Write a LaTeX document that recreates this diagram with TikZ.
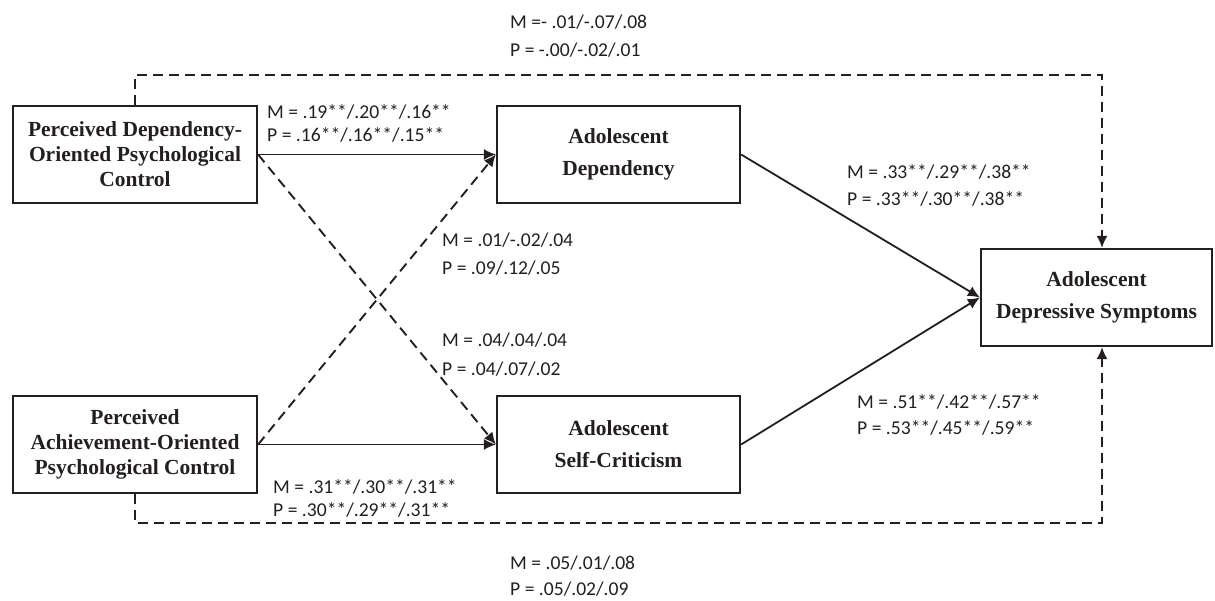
\documentclass[tikz,border=0pt]{standalone}
\usepackage{fontspec}
\setmainfont{Liberation Serif}
\newfontfamily\labfont{Carlito}
\usetikzlibrary{arrows.meta}
\definecolor{ink}{HTML}{231F20}
\tikzset{
  boxthree/.style={draw=ink, line width=2.2pt, rectangle, align=center, inner sep=0pt,
    minimum width=244pt, minimum height=97pt, text=ink,
    font=\fontsize{21.5}{25}\selectfont\bfseries},
  boxtwo/.style={boxthree, font=\fontsize{21.5}{32}\selectfont\bfseries},
  lab/.style={anchor=west, align=left, inner sep=0pt, text=ink,
    font=\labfont\fontsize{19.6}{23}\selectfont},
  solidarrow/.style={draw=ink, line width=1.8pt, -{Latex[length=12pt,width=11pt]}},
  dasharrow/.style={draw=ink, line width=1.9pt, dash pattern=on 10pt off 6pt,
    -{Latex[length=12pt,width=11pt]}},
}
\begin{document}
\begin{tikzpicture}[x=1pt,y=-1pt]
\useasboundingbox (0,0) rectangle (1215,601);

% boxes
\node[boxthree] (pdo) at (135,154.5) {Perceived Dependency-\\Oriented Psychological\\Control};
\node[boxthree] (pao) at (135,444.5) {Perceived\\Achievement-Oriented\\Psychological Control};
\node[boxtwo, minimum width=243pt] (dep) at (618.5,154.5) {Adolescent\\Dependency};
\node[boxtwo, minimum width=243pt] (scr) at (618.5,444.5) {Adolescent\\Self-Criticism};
\node[boxtwo, minimum width=231pt] (dsy) at (1096.5,297.5) {Adolescent\\Depressive Symptoms};

% helper coordinates
\coordinate (topR) at (1102,75);
\coordinate (botR) at (1102,523);

% connectors
\draw[solidarrow] (pdo.east) -- (dep.west);
\draw[solidarrow] (pao.east) -- (scr.west);
\draw[dasharrow] (pdo.east) -- (scr.west);
\draw[dasharrow] (pao.east) -- (dep.west);
\draw[solidarrow] (dep.east) -- (dsy.west);
\draw[solidarrow] (scr.east) -- (dsy.west);
\draw[dasharrow] (pdo.north) |- (topR) -- (topR |- dsy.north);
\draw[dasharrow] (pao.south) |- (botR) -- (botR |- dsy.south);

% labels
\node[lab] (l1) at (267,123.5) {M = .19**/.20**/.16**\\P = .16**/.16**/.15**};
\node[lab] (l2) at (847,185.5) {M = .33**/.29**/.38**\\[4pt]P = .33**/.30**/.38**};
\node[lab] (l3) at (442,254) {M = .01/-.02/.04\\[5pt]P = .09/.12/.05};
\node[lab] (l4) at (442,355) {M = .04/.04/.04\\[6pt]P = .04/.07/.02};
\node[lab] (l5) at (857,415) {M = .51**/.42**/.57**\\[3pt]P = .53**/.45**/.59**};
\node[lab] (l6) at (273,498) {M = .31**/.30**/.31**\\P = .30**/.29**/.31**};
\node[lab] (l7) at (510,36) {M =- .01/-.07/.08\\[5pt]P = -.00/-.02/.01};
\node[lab] (l8) at (510,576) {M = .05/.01/.08\\[3pt]P = .05/.02/.09};
\end{tikzpicture}
\end{document}
